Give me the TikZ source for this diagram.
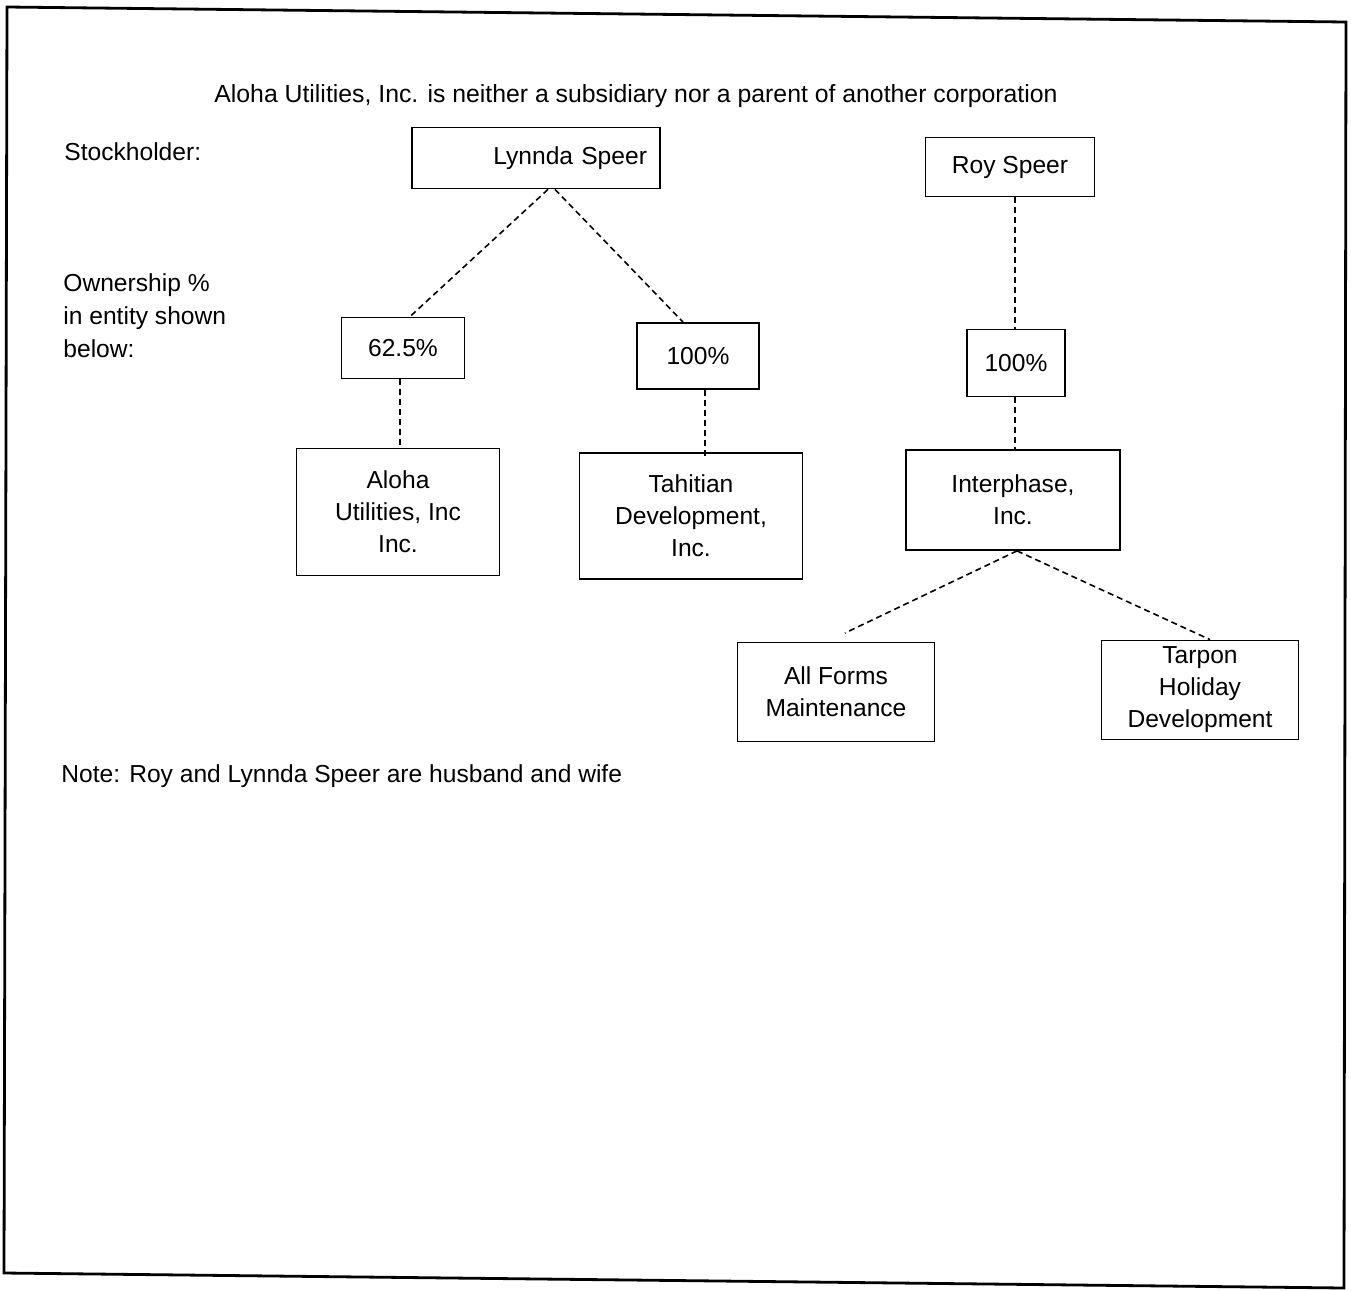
\documentclass[tikz,border=0pt]{standalone}
\usepackage{fontspec}
\setmainfont{Liberation Sans}
\usetikzlibrary{calc}
\tikzstyle{orgbox} = [draw, line width=0.9pt, rectangle, inner sep=0pt,
    align=center, font=\fontsize{12.3}{16}\selectfont]
\tikzstyle{owns} = [line width=0.8pt, dash pattern=on 3pt off 2pt]
\tikzstyle{sidetext} = [anchor=west, align=left, inner sep=0pt,
    font=\fontsize{12.3}{16.5}\selectfont]

\begin{document}
\begin{tikzpicture}[x=0.5pt, y=-0.5pt]
\useasboundingbox (0,0) rectangle (1351,1291);

% scanned page frame
\draw[line width=1.4pt] (7,7) -- (1346,22) -- (1344,1288) -- (4,1273) -- cycle;

\node[inner sep=0pt, font=\fontsize{12.4}{15}\selectfont] (title) at (636,96)
    {Aloha Utilities, Inc. is neither a subsidiary nor a parent of another corporation};

% row labels
\node[sidetext] (stocklbl) at (64,152) {Stockholder:};
\node[sidetext] (ownlbl) at (63,316) {Ownership \%\\in entity shown\\below:};

% stockholders
\node[orgbox, minimum width=124pt, minimum height=30.5pt,
      text width=111pt, align=right] (lynnda) at (536,158) {Lynnda Speer};
\node[orgbox, minimum width=84.5pt, minimum height=29.5pt] (roy) at (1010,167) {Roy Speer};

% ownership shares
\node[orgbox, minimum width=61.5pt, minimum height=30.5pt] (pctA) at (403,348) {62.5\%};
\node[orgbox, minimum width=61pt, minimum height=33pt] (pctB) at (698,356) {100\%};
\node[orgbox, minimum width=49pt, minimum height=33.5pt] (pctC) at (1016,363) {100\%};

% entities
\node[orgbox, minimum width=101.5pt, minimum height=63.5pt] (aloha) at (398,512)
    {Aloha\\Utilities, Inc\\Inc.};
\node[orgbox, minimum width=111.5pt, minimum height=63pt] (tahitian) at (691,516)
    {Tahitian\\Development,\\Inc.};
\node[orgbox, minimum width=107pt, minimum height=50pt] (interphase) at (1013,500)
    {Interphase,\\Inc.};
\node[orgbox, minimum width=98.5pt, minimum height=49.5pt] (allforms) at (836,692)
    {All Forms\\Maintenance};
\node[orgbox, minimum width=98.5pt, minimum height=49.5pt] (tarpon) at (1200,690)
    {Tarpon\\Holiday\\Development};

\node[sidetext] (note) at (61,776) {Note: Roy and Lynnda Speer are husband and wife};

% ownership links
\draw[owns] ([xshift=6pt]lynnda.south) -- ([xshift=3.5pt]pctA.north);
\draw[owns] ([xshift=9.5pt]lynnda.south) -- ([xshift=-7.5pt]pctB.north);
\draw[owns] ([xshift=-1.5pt]pctA.south) -- ([xshift=-1.5pt]pctA.south |- aloha.north);
\draw[owns] ([xshift=3.5pt]pctB.south) -- ([xshift=3.5pt,yshift=-3.5pt]pctB.south |- tahitian.north);
\draw[owns] ([xshift=2.5pt]roy.south) -- ([xshift=2.5pt]roy.south |- pctC.north);
\draw[owns] ([xshift=-0.5pt]pctC.south) -- ([xshift=-0.5pt]pctC.south |- interphase.north);
\coordinate (formsend) at (845,633);
\draw[owns] ([xshift=2pt]interphase.south) -- (formsend);
\draw[owns] ([xshift=2pt]interphase.south) -- ([xshift=5pt]tarpon.north);

\end{tikzpicture}
\end{document}
